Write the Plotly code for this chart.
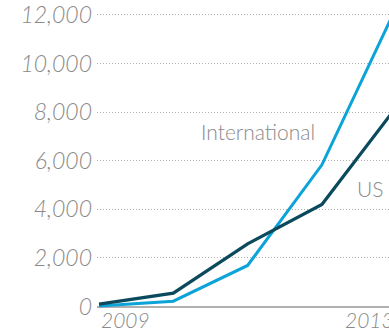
import plotly.graph_objects as go

# Annual values, 2009-2013
years = [2009, 2010, 2011, 2012, 2013]
us = [100, 550, 2580, 4200, 8200]
international = [20, 220, 1690, 5830, 12300]

y_ticks = [0, 2000, 4000, 6000, 8000, 10000, 12000]
y_tick_labels = ["0", "2,000", "4,000", "6,000", "8,000", "10,000", "12,000"]
year_labels = ["2009", "2013"]

DARK = "#0b4a5d"
LIGHT = "#0ba3d8"
GREY_TEXT = "#8a8a8a"
FONT = "Lato Light, Lato"

x_range = [2008.973, 2012.903]
y_range = [-61, 12447]

fig = go.Figure()
fig.add_trace(go.Scatter(x=years, y=international, mode="lines",
                         line=dict(color=LIGHT, width=3), name="International"))
fig.add_trace(go.Scatter(x=years, y=us, mode="lines",
                         line=dict(color=DARK, width=3.3), name="US"))

# series labels next to the lines
fig.add_annotation(x=2011.14, y=7208, text="International", showarrow=False,
                   font=dict(family=FONT, size=21, color=GREY_TEXT, weight=300))
fig.add_annotation(x=2012.65, y=4853, text="US", showarrow=False,
                   font=dict(family=FONT, size=21, color=GREY_TEXT, weight=300))

# first year label hangs right of its point, last year label hangs left of it
def paper_x(v):
    return (v - x_range[0]) / (x_range[1] - x_range[0])

for yr, anchor in zip(year_labels, ["left", "right"]):
    fig.add_annotation(x=paper_x(int(yr)), xref="paper", y=0, yref="paper",
                       yanchor="top", xanchor=anchor, showarrow=False, text=yr,
                       yshift=3,
                       font=dict(family=FONT, size=21, color=GREY_TEXT,
                                 style="italic", weight=300))

fig.update_layout(
    width=389, height=333,
    margin=dict(l=97, r=0, t=0, b=25),
    paper_bgcolor="white", plot_bgcolor="white",
    showlegend=False,
    xaxis=dict(range=x_range, showgrid=False, zeroline=False, showline=False,
               showticklabels=False, ticks=""),
    yaxis=dict(range=y_range, tickvals=y_ticks, ticktext=y_tick_labels,
               showgrid=True, gridcolor="#b0b0b0", griddash="1px,2px", gridwidth=1,
               zeroline=True, zerolinecolor="#b0b0b0", zerolinewidth=1.5,
               showline=False, ticks="", ticklabelstandoff=4,
               ticklabeloverflow="allow",
               tickfont=dict(family=FONT, size=23, color=GREY_TEXT,
                             style="italic", weight=300)),
)

fig.write_html("out.html")
